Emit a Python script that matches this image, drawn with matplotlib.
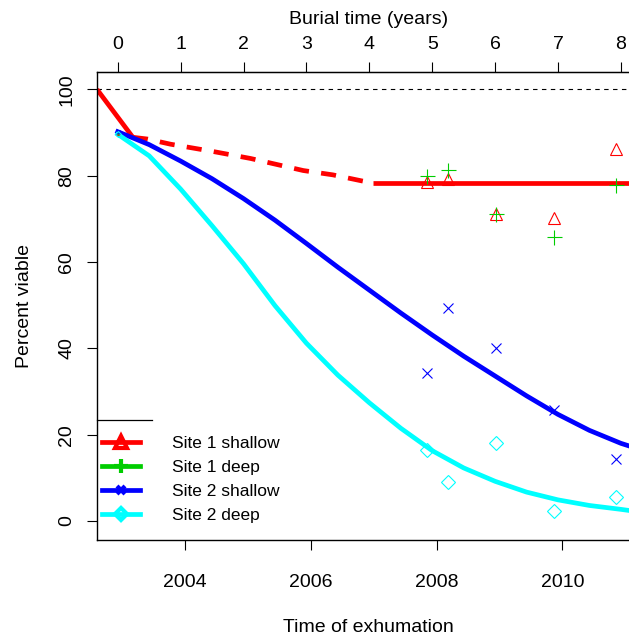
import matplotlib
matplotlib.use("Agg")
import matplotlib.pyplot as plt
from matplotlib.lines import Line2D

plt.rcParams["font.family"] = ["Liberation Sans", "DejaVu Sans"]

# exhumation date that corresponds to burial time zero
BURIAL_START = 2002.93

# observed viability: all seed lots start near 90 %
t_start = [0.0]
start_viable = {"s1_shallow": [90.0], "s1_deep": [90.0], "s2_shallow": [90.2], "s2_deep": [89.6]}

# later retrievals (years of burial)
t_obs = [4.92, 5.25, 6.01, 6.93, 7.93]
site1_shallow = [78.6, 79.2, 71.2, 70.1, 86.1]
site1_deep = [80.0, 81.3, 71.1, 65.7, 77.8]
site2_shallow = [34.2, 49.4, 40.0, 25.7, 14.4]
site2_deep = [16.5, 9.0, 18.1, 2.3, 5.6]

# fitted decline, site 1 (solid where supported by data, dashed across the gap)
fit1_t_early = [-0.33, 0.24]
fit1_v_early = [100.0, 88.9]
fit1_t_gap = [0.24, 0.47, 0.84, 1.52, 2.11, 2.53, 2.95, 3.42, 3.88, 4.06]
fit1_v_gap = [88.9, 88.5, 87.3, 85.6, 84.0, 82.6, 81.2, 80.2, 78.8, 78.3]
fit1_t_late = [4.06, 8.3]
fit1_v_late = [78.3, 78.3]

# fitted curves for site 2, read every half year
fit2_t = [0.0, 0.5, 1.0, 1.5, 2.0, 2.5, 3.0, 3.5, 4.0, 4.5, 5.0, 5.5, 6.0, 6.5, 7.0, 7.5,
          8.0, 8.15]
fit2s_v = [90.2, 87.2, 83.4, 79.3, 74.7, 69.7, 64.3, 58.8, 53.5, 48.2, 43.1, 38.2, 33.6,
           29.0, 24.7, 21.0, 18.0, 17.3]
fit2d_v = [89.6, 84.6, 76.9, 68.4, 59.6, 49.9, 41.2, 33.8, 27.4, 21.5, 16.3, 12.3, 9.2,
           6.7, 4.9, 3.6, 2.7, 2.4]

labels = ["Site 1 shallow", "Site 1 deep", "Site 2 shallow", "Site 2 deep"]
colors = ["#FF0000", "#00CD00", "#0000FF", "#00FFFF"]
markers = ["^", "+", "x", "D"]
msizes = [9.1, 10.8, 6.7, 7.3]


def yr(t):
    return [BURIAL_START + v for v in t]


fig = plt.figure(figsize=(6.29, 6.39), dpi=100)
ax = fig.add_axes([97 / 629, 99 / 639, 543 / 629, 468 / 639])

lw_fit = 3.4
ax.axhline(100, color="black", lw=0.8, ls=(0, (4, 4)))

ax.plot(yr(fit1_t_early), fit1_v_early, color=colors[0], lw=lw_fit, solid_capstyle="butt")
ax.plot(yr(fit1_t_gap), fit1_v_gap, color=colors[0], lw=lw_fit, ls=(0, (3.2, 2.6)))
ax.plot(yr(fit1_t_late), fit1_v_late, color=colors[0], lw=lw_fit, solid_capstyle="butt")
ax.plot(yr(fit2_t), fit2s_v, color=colors[2], lw=lw_fit, solid_joinstyle="round")
ax.plot(yr(fit2_t), fit2d_v, color=colors[3], lw=lw_fit, solid_joinstyle="round")

series = [site1_shallow, site1_deep, site2_shallow, site2_deep]
starts = list(start_viable.values())
for vals, v0, c, m, ms in zip(series, starts, colors, markers, msizes):
    ax.plot(yr(t_obs), vals, ls="none", marker=m, ms=ms, mfc="none", mec=c, mew=0.8)
    ax.plot(yr(t_start), v0, ls="none", marker=m, ms=3, mfc="none", mec=c, mew=0.8)

ax.set_xlim(2002.60, 2011.234)
ax.set_ylim(-4.40, 104.03)

ax.set_xticks([2004, 2006, 2008, 2010])
ax.set_yticks([0, 20, 40, 60, 80, 100])
ax.tick_params(axis="x", length=7.5, width=0.8, labelsize=14, pad=17)
ax.tick_params(axis="y", length=7.5, width=0.8, labelsize=14, pad=8)
for lab in ax.get_yticklabels():
    lab.set_rotation(90)
    lab.set_va("center")
for side in ["top", "left", "bottom"]:
    ax.spines[side].set_linewidth(1.0)
ax.spines["right"].set_visible(False)

top = ax.secondary_xaxis("top", functions=(lambda x: x - BURIAL_START, lambda t: t + BURIAL_START))
top.set_xticks(range(0, 9))
top.tick_params(length=7.5, width=0.8, labelsize=14, pad=6)
top.set_xlabel("Burial time (years)", fontsize=14, labelpad=9)

ax.set_xlabel("Time of exhumation", fontsize=14, labelpad=20)
ax.set_ylabel("Percent viable", fontsize=14, labelpad=18)

handles = [
    Line2D([], [], color=c, lw=lw_fit, marker=m, ms=ms * 0.9, mfc="none", mew=3)
    for c, m, ms in zip(colors, markers, msizes)
]
ax.legend(handles, labels, loc="upper left", bbox_to_anchor=(102 / 629, 1 - 435.5 / 639),
          bbox_transform=fig.transFigure, frameon=False, fontsize=12.5, borderpad=0,
          borderaxespad=0, handlelength=2.18, handletextpad=1.88, labelspacing=0.52)
# top edge of the legend frame
ax.plot([0, 0.101], [0.256, 0.256], transform=ax.transAxes, color="black", lw=0.9,
        clip_on=False)

fig.savefig("out.png", dpi=100)
